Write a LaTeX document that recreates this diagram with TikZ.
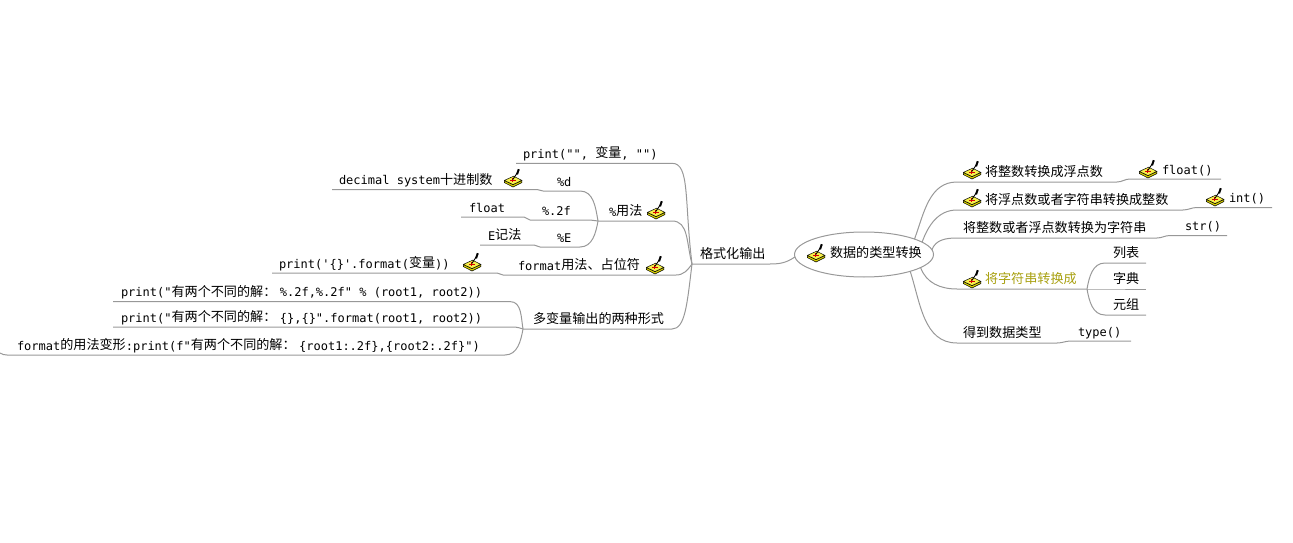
\documentclass[tikz,border=0pt]{standalone}
\usepackage{fontspec}
\usetikzlibrary{shapes.geometric}
\setmainfont{Noto Sans CJK SC}
\newfontfamily\latinmono{DejaVu Sans Mono}[Scale=1]
\newcommand{\mono}[1]{\raisebox{-0.7pt}{\fontsize{12pt}{13pt}\latinmono #1}}
\newcommand{\topic}[6]{%
  \node[topicbox,anchor=south west] (#1) at (#2,{542-#4})
    {\makebox[\dimexpr #3pt-#2pt\relax][l]{\hspace*{#5pt}#6}};}
\newcommand{\brush}[2]{\pic at (#1,{542-#2}) {brushicon};}
\newcommand{\solve}{有两个不同的解：\hspace{3.5pt}}
\definecolor{linkgrey}{HTML}{989898}
\definecolor{brushyellow}{HTML}{F6F04A}
\definecolor{brushshade}{HTML}{D8D000}
\definecolor{accent}{HTML}{A8A010}
\tikzset{
  topicbox/.style={inner sep=0pt,outer sep=0pt,text height=11pt,text depth=5.5pt,font=\fontsize{13.1pt}{15pt}\selectfont},
  link/.style={draw=linkgrey,line width=1pt,line join=round},
  rootnode/.style={ellipse,draw=linkgrey,line width=1pt,minimum width=139pt,minimum height=45pt,inner sep=0pt,outer sep=0pt},
  brushicon/.pic={
    \fill[brushshade,draw=black,line width=0.5pt] (-8.6,-2.6) -- (0,-6.4) -- (8.8,-2.6) -- (8.8,-4.6) -- (0,-9) -- (-8.6,-4.6) -- cycle;
    \fill[brushyellow,draw=black,line width=0.5pt] (-8.6,-2.4) -- (0.6,1.8) -- (8.8,-2.4) -- (0,-6.6) -- cycle;
    \draw[red!85!black,line width=0.6pt] (-3,-2.4) -- (2.5,-2.4) (-0.4,-0.4) -- (-0.4,-4.4);
    \draw[black,line width=0.9pt] (-0.3,-1.6) -- (4.2,5);
    \draw[black,line width=2pt] (4,3.6) -- (5.8,8.8);
  }
}
\begin{document}
\begin{tikzpicture}[x=1pt,y=1pt]
\useasboundingbox (0,0) rectangle (1293,542);
% central topic
\node[rootnode] (root) at (864,287.5) {};
\node[topicbox,text height=11pt,text depth=4pt,anchor=west] (rootlabel) at (830,288) {数据的类型转换};
\brush{816}{253}
% left side
\topic{fmt}{692}{770}{264}{8}{格式化输出}
\topic{pr}{516}{672}{163.3}{7}{\mono{print("", }变量\mono{, "")}}
\topic{pct}{598}{672}{221}{11}{\mono{\%}用法}
\brush{656}{210}
\topic{fu}{503}{676}{275}{15}{\mono{format}用法、占位符}
\brush{655}{265}
\topic{fp}{272}{497}{273}{7}{\mono{print('\{\}'.format(}变量\mono{))}}
\brush{472}{262}
\topic{mv}{523}{672}{329}{10}{多变量输出的两种形式}
\topic{pd}{543}{580}{191}{14}{\mono{\%d}}
\topic{dec}{332}{537}{189.5}{7}{\mono{decimal system}十进制数}
\brush{513}{178}
\topic{pf}{530}{590}{220}{12}{\mono{\%.2f}}
\topic{fl}{461}{524}{217}{8}{\mono{float}}
\topic{pe}{540}{580}{247}{17}{\mono{\%E}}
\topic{el}{480}{534}{245}{8}{\mono{E}记法}
\topic{ka}{113}{510}{301.6}{8}{\mono{print("}\solve\mono{\%.2f,\%.2f" \% (root1, root2))}}
\topic{kb}{113}{515}{327}{8}{\mono{print("}\solve\mono{\{\},\{\}".format(root1, root2))}}
\topic{kc}{7}{505}{355}{10}{\mono{format}的用法变形\mono{:print(f"}\solve\mono{\{root1:.2f\},\{root2:.2f\}")}}
\coordinate (kcend) at (0,189);
% right side
\topic{ta}{957}{1117}{182}{28}{将整数转换成浮点数}
\brush{972}{170}
\topic{fa}{1130}{1221}{179}{32}{\mono{float()}}
\brush{1148}{169}
\topic{tb}{957}{1183}{210}{28}{将浮点数或者字符串转换成整数}
\brush{972}{198}
\topic{fb}{1197}{1272}{207.5}{32}{\mono{int()}}
\brush{1215}{197}
\topic{tc}{957}{1157}{238}{6}{将整数或者浮点数转换为字符串}
\topic{fc}{1170}{1227}{235.5}{15}{\mono{str()}}
\topic{td}{957}{1087}{289}{28}{\textcolor{accent}{将字符串转换成}}
\brush{972}{279}
\topic{la}{1105}{1146}{263}{8}{列表}
\topic{lb}{1105}{1146}{289}{8}{字典}
\topic{lc}{1105}{1146}{315}{8}{元组}
\topic{te}{957}{1057}{343}{6}{得到数据类型}
\topic{fe}{1071}{1131}{341}{7}{\mono{type()}}
% connectors, left
\draw[link] (root.182) to[out=215,in=0] (fmt.south east) -- (fmt.south west);
\draw[link] (fmt.south west) to[out=97,in=0,out looseness=1.6,in looseness=0.45] (pr.south east) -- (pr.south west);
\draw[link] (fmt.south west) to[out=105,in=0,out looseness=1.2,in looseness=0.9] (pct.south east) -- (pct.south west);
\draw[link] (fmt.south west) to[out=-125,in=0] (fu.south east) -- (fu.south west);
\draw[link] (fmt.south west) to[out=-97,in=0,out looseness=1.5,in looseness=0.5] (mv.south east) -- (mv.south west);
\draw[link] (fu.south west) to[out=180,in=0] (fp.south east) -- (fp.south west);
\draw[link] (pct.south west) to[out=100,in=0] (pd.south east) -- (pd.south west);
\draw[link] (pct.south west) to[out=180,in=0] (pf.south east) -- (pf.south west);
\draw[link] (pct.south west) to[out=-100,in=0] (pe.south east) -- (pe.south west);
\draw[link] (pd.south west) to[out=180,in=0] (dec.south east) -- (dec.south west);
\draw[link] (pf.south west) to[out=180,in=0] (fl.south east) -- (fl.south west);
\draw[link] (pe.south west) to[out=180,in=0] (el.south east) -- (el.south west);
\draw[link] (mv.south west) to[out=100,in=0] (ka.south east) -- (ka.south west);
\draw[link] (mv.south west) to[out=170,in=0] (kb.south east) -- (kb.south west);
\draw[link] (mv.south west) to[out=-100,in=0] (kc.south east) -- (kc.south west) to[out=180,in=-30] (kcend);
% connectors, right
\draw[link] (root.17) to[out=70,in=180] (ta.south west) -- (ta.south east);
\draw[link] (root.12) to[out=70,in=180] (tb.south west) -- (tb.south east);
\draw[link] (root.4) to[out=70,in=180] (tc.south west) -- (tc.south east);
\draw[link] (root.-13) to[out=-70,in=180] (td.south west) -- (td.south east);
\draw[link] (root.-20) to[out=-72,in=180] (te.south west) -- (te.south east);
\draw[link] (ta.south east) to[out=0,in=180] (fa.south west) -- (fa.south east);
\draw[link] (tb.south east) to[out=0,in=180] (fb.south west) -- (fb.south east);
\draw[link] (tc.south east) to[out=0,in=180] (fc.south west) -- (fc.south east);
\draw[link] (te.south east) to[out=0,in=180] (fe.south west) -- (fe.south east);
\draw[link] (td.south east) to[out=80,in=180] (la.south west) -- (la.south east);
\draw[link] (td.south east) -- (lb.south west) -- (lb.south east);
\draw[link] (td.south east) to[out=-80,in=180] (lc.south west) -- (lc.south east);
\end{tikzpicture}
\end{document}
